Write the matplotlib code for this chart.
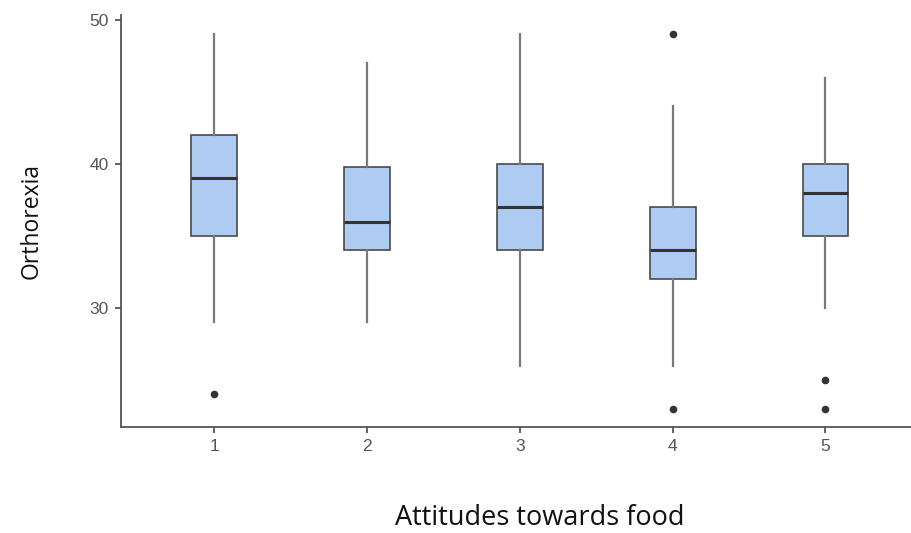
import matplotlib
matplotlib.use("Agg")
from matplotlib import pyplot as plt

# box statistics per attitude level
groups = ["1", "2", "3", "4", "5"]
whislo = [29, 29, 26, 26, 30]
q1 = [35, 34, 34, 32, 35]
med = [39, 36, 37, 34, 38]
q3 = [42, 39.8, 40, 37, 40]
whishi = [49, 47, 49, 44, 46]
fliers = [[24], [], [], [49, 23], [25, 23]]

stats = []
for i, g in enumerate(groups):
    stats.append(dict(label=g, whislo=whislo[i], q1=q1[i], med=med[i],
                      q3=q3[i], whishi=whishi[i], fliers=fliers[i]))

fig = plt.figure(figsize=(9.11, 5.33), dpi=100)
ax = fig.add_axes([0.133, 0.199, 0.867, 0.773])

ax.bxp(stats, positions=range(1, 6), widths=0.3, patch_artist=True,
       showcaps=False,
       boxprops=dict(facecolor="#aecbf2", edgecolor="#4a4a4a", linewidth=1.2),
       medianprops=dict(color="#333333", linewidth=2.2),
       whiskerprops=dict(color="#7a7a7a", linewidth=1.6),
       flierprops=dict(marker="o", markersize=4.5, markerfacecolor="#333333",
                       markeredgecolor="#333333"))

ax.set_xlim(0.39, 5.56)
ax.set_ylim(21.74, 50.35)
ax.set_yticks([30, 40, 50])

for s in ["top", "right"]:
    ax.spines[s].set_visible(False)
for s in ["left", "bottom"]:
    ax.spines[s].set_color("#555555")
    ax.spines[s].set_linewidth(1.3)

ax.tick_params(axis="both", length=4, width=1.3, color="#555555",
               labelsize=12.5, labelcolor="#555555", pad=5)
for lab in ax.get_xticklabels() + ax.get_yticklabels():
    lab.set_family("Liberation Sans")

ax.set_ylabel("Orthorexia", fontsize=16.5, family="Open Sans", color="#111111",
              labelpad=33)
ax.set_xlabel("Attitudes towards food", fontsize=19.5, family="Open Sans",
              color="#111111")
ax.xaxis.set_label_coords(0.53, -0.188)

fig.savefig("out.png", dpi=100)
